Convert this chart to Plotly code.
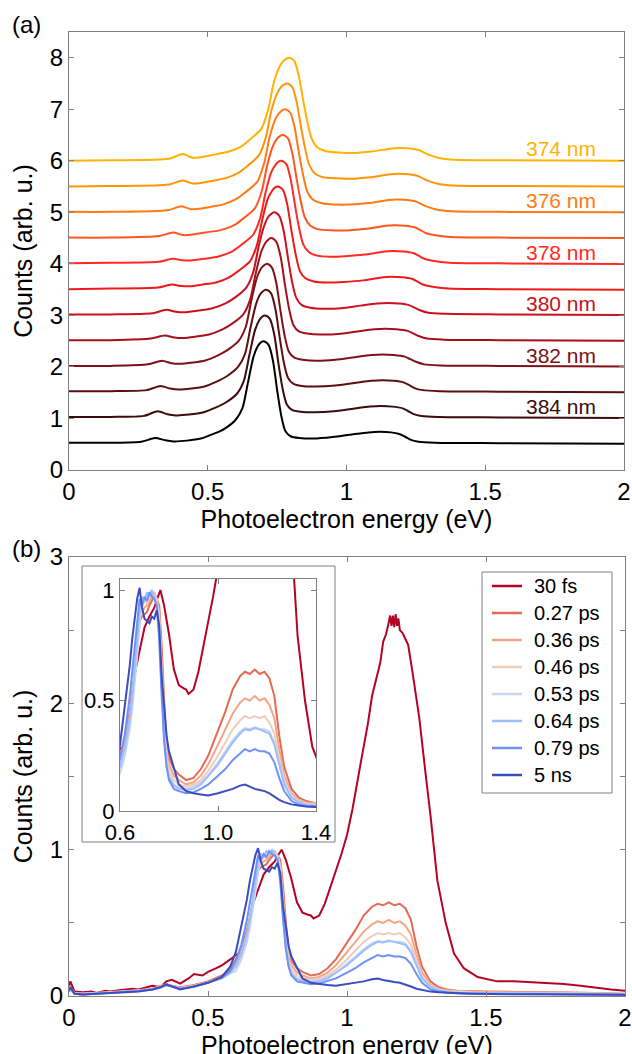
import plotly.graph_objects as go

# ---------------- Panel (a) data: spectra above their offsets ----------------
WAVELENGTHS = ["385 nm", "384 nm", "383 nm", "382 nm", "381 nm", "380 nm",
               "379 nm", "378 nm", "377 nm", "376 nm", "375 nm", "374 nm"]
OFFSETS_A = [0.5, 1.0, 1.5, 2.0, 2.5, 3.0, 3.5, 4.0, 4.5, 5.0, 5.5, 6.0]
COLORS_A = ["#000000", "#3a0c0c", "#5a1010", "#7e1018", "#a6101a", "#cc1020",
            "#ee1a1a", "#ff2a24", "#ff5520", "#ff7a14", "#ff9608", "#ffb300"]
LABELLED_A = ["384 nm", "382 nm", "380 nm", "378 nm", "376 nm", "374 nm"]

x_385 = [0, 0.15, 0.26, 0.31, 0.345, 0.375, 0.425, 0.475, 0.525, 0.56, 0.60, 0.625, 0.645, 0.665, 0.68, 0.69, 0.70, 0.71, 0.72, 0.735, 0.75, 0.765, 0.78, 0.80, 0.83, 0.88, 0.95, 1.02, 1.08, 1.12, 1.16, 1.19, 1.21, 1.23, 1.26, 1.32, 1.55, 2.0]
r_385 = [0.03, 0.03, 0.05, 0.12, 0.08, 0.055, 0.07, 0.11, 0.21, 0.30, 0.47, 0.70, 1.20, 1.70, 1.90, 1.97, 2.00, 1.98, 1.92, 1.62, 1.05, 0.55, 0.25, 0.15, 0.12, 0.11, 0.14, 0.19, 0.23, 0.24, 0.23, 0.20, 0.15, 0.09, 0.05, 0.03, 0.02, 0.01]
x_384 = [0, 0.15, 0.27, 0.32, 0.355, 0.385, 0.433, 0.482, 0.53, 0.565, 0.605, 0.63, 0.65, 0.67, 0.685, 0.695, 0.705, 0.715, 0.725, 0.74, 0.755, 0.77, 0.785, 0.805, 0.835, 0.885, 0.955, 1.025, 1.085, 1.125, 1.165, 1.20, 1.22, 1.24, 1.27, 1.33, 1.55, 2.0]
r_384 = [0.03, 0.03, 0.05, 0.14, 0.08, 0.06, 0.075, 0.115, 0.215, 0.31, 0.48, 0.73, 1.23, 1.71, 1.90, 1.97, 2.00, 1.98, 1.92, 1.62, 1.06, 0.57, 0.27, 0.16, 0.13, 0.12, 0.14, 0.19, 0.23, 0.24, 0.23, 0.20, 0.15, 0.09, 0.05, 0.03, 0.02, 0.01]
x_383 = [0, 0.15, 0.28, 0.33, 0.365, 0.395, 0.441, 0.488, 0.534, 0.569, 0.609, 0.634, 0.654, 0.674, 0.689, 0.699, 0.709, 0.719, 0.729, 0.744, 0.759, 0.774, 0.789, 0.809, 0.839, 0.889, 0.96, 1.03, 1.09, 1.13, 1.17, 1.205, 1.225, 1.245, 1.275, 1.335, 1.55, 2.0]
r_383 = [0.03, 0.03, 0.05, 0.13, 0.08, 0.06, 0.08, 0.12, 0.22, 0.32, 0.50, 0.75, 1.26, 1.72, 1.91, 1.97, 2.00, 1.98, 1.92, 1.62, 1.08, 0.59, 0.29, 0.17, 0.13, 0.12, 0.14, 0.19, 0.23, 0.24, 0.23, 0.20, 0.15, 0.09, 0.05, 0.03, 0.02, 0.01]
x_382 = [0, 0.15, 0.285, 0.335, 0.37, 0.40, 0.446, 0.491, 0.537, 0.572, 0.612, 0.637, 0.657, 0.677, 0.692, 0.702, 0.712, 0.722, 0.732, 0.747, 0.762, 0.777, 0.792, 0.812, 0.842, 0.892, 0.96, 1.03, 1.09, 1.13, 1.17, 1.21, 1.23, 1.25, 1.28, 1.34, 1.55, 2.0]
r_382 = [0.02, 0.02, 0.05, 0.12, 0.07, 0.06, 0.085, 0.125, 0.225, 0.33, 0.51, 0.78, 1.29, 1.73, 1.91, 1.97, 2.00, 1.98, 1.92, 1.63, 1.09, 0.61, 0.30, 0.18, 0.14, 0.12, 0.14, 0.19, 0.23, 0.24, 0.23, 0.20, 0.15, 0.10, 0.05, 0.03, 0.02, 0.01]
x_381 = [0, 0.15, 0.295, 0.345, 0.38, 0.41, 0.458, 0.505, 0.553, 0.588, 0.628, 0.653, 0.673, 0.693, 0.708, 0.718, 0.728, 0.738, 0.748, 0.763, 0.778, 0.793, 0.808, 0.828, 0.858, 0.908, 0.97, 1.04, 1.10, 1.14, 1.18, 1.22, 1.24, 1.26, 1.29, 1.35, 1.55, 2.0]
r_381 = [0.02, 0.02, 0.05, 0.11, 0.07, 0.06, 0.09, 0.13, 0.23, 0.34, 0.52, 0.81, 1.32, 1.74, 1.91, 1.97, 2.00, 1.98, 1.92, 1.63, 1.10, 0.63, 0.32, 0.19, 0.15, 0.13, 0.14, 0.19, 0.23, 0.24, 0.23, 0.20, 0.15, 0.10, 0.05, 0.03, 0.02, 0.01]
x_380 = [0, 0.15, 0.30, 0.35, 0.385, 0.415, 0.465, 0.514, 0.564, 0.599, 0.639, 0.664, 0.684, 0.704, 0.719, 0.729, 0.739, 0.749, 0.759, 0.774, 0.789, 0.804, 0.819, 0.839, 0.869, 0.919, 0.98, 1.05, 1.11, 1.15, 1.19, 1.225, 1.245, 1.265, 1.295, 1.355, 1.55, 2.0]
r_380 = [0.02, 0.02, 0.04, 0.11, 0.07, 0.06, 0.095, 0.135, 0.235, 0.35, 0.54, 0.84, 1.35, 1.75, 1.92, 1.97, 2.00, 1.98, 1.92, 1.63, 1.12, 0.65, 0.34, 0.20, 0.15, 0.13, 0.14, 0.19, 0.23, 0.24, 0.23, 0.20, 0.15, 0.10, 0.05, 0.03, 0.02, 0.01]
x_379 = [0, 0.15, 0.32, 0.37, 0.405, 0.435, 0.482, 0.53, 0.577, 0.612, 0.652, 0.677, 0.697, 0.717, 0.732, 0.742, 0.752, 0.762, 0.772, 0.787, 0.802, 0.817, 0.832, 0.852, 0.882, 0.932, 0.99, 1.06, 1.12, 1.16, 1.20, 1.235, 1.255, 1.275, 1.305, 1.365, 1.55, 2.0]
r_379 = [0.01, 0.02, 0.04, 0.10, 0.07, 0.065, 0.10, 0.14, 0.24, 0.37, 0.55, 0.86, 1.37, 1.77, 1.92, 1.98, 2.00, 1.98, 1.93, 1.64, 1.13, 0.68, 0.36, 0.22, 0.16, 0.14, 0.15, 0.18, 0.23, 0.25, 0.24, 0.21, 0.16, 0.10, 0.06, 0.02, 0.01, 0.00]
x_378 = [0, 0.15, 0.323, 0.373, 0.408, 0.438, 0.488, 0.539, 0.589, 0.624, 0.664, 0.689, 0.709, 0.729, 0.744, 0.754, 0.764, 0.774, 0.784, 0.799, 0.814, 0.829, 0.844, 0.864, 0.894, 0.944, 0.995, 1.065, 1.125, 1.165, 1.205, 1.24, 1.26, 1.28, 1.31, 1.37, 1.55, 2.0]
r_378 = [0.01, 0.02, 0.04, 0.10, 0.07, 0.065, 0.10, 0.145, 0.245, 0.38, 0.57, 0.89, 1.40, 1.78, 1.92, 1.98, 2.00, 1.98, 1.93, 1.64, 1.15, 0.70, 0.38, 0.23, 0.16, 0.14, 0.15, 0.18, 0.23, 0.25, 0.24, 0.21, 0.16, 0.10, 0.06, 0.02, 0.01, 0.00]
x_377 = [0, 0.15, 0.325, 0.375, 0.41, 0.44, 0.492, 0.543, 0.595, 0.63, 0.67, 0.695, 0.715, 0.735, 0.75, 0.76, 0.77, 0.78, 0.79, 0.805, 0.82, 0.835, 0.85, 0.87, 0.90, 0.95, 1.00, 1.07, 1.13, 1.17, 1.21, 1.245, 1.265, 1.285, 1.315, 1.375, 1.55, 2.0]
r_377 = [0.01, 0.01, 0.04, 0.11, 0.06, 0.065, 0.11, 0.15, 0.25, 0.39, 0.58, 0.92, 1.43, 1.79, 1.93, 1.98, 2.00, 1.98, 1.93, 1.64, 1.16, 0.72, 0.40, 0.24, 0.17, 0.15, 0.15, 0.18, 0.23, 0.25, 0.24, 0.21, 0.16, 0.10, 0.06, 0.02, 0.01, 0.00]
x_376 = [0, 0.15, 0.355, 0.405, 0.44, 0.47, 0.514, 0.559, 0.603, 0.638, 0.678, 0.703, 0.723, 0.743, 0.758, 0.768, 0.778, 0.788, 0.798, 0.813, 0.828, 0.843, 0.858, 0.878, 0.908, 0.958, 1.01, 1.08, 1.14, 1.18, 1.22, 1.25, 1.27, 1.29, 1.32, 1.38, 1.55, 2.0]
r_376 = [0.01, 0.01, 0.04, 0.12, 0.06, 0.07, 0.11, 0.16, 0.26, 0.40, 0.59, 0.95, 1.46, 1.80, 1.93, 1.98, 2.00, 1.98, 1.93, 1.65, 1.17, 0.74, 0.41, 0.25, 0.18, 0.15, 0.15, 0.18, 0.23, 0.25, 0.24, 0.21, 0.16, 0.11, 0.06, 0.02, 0.01, 0.00]
x_375 = [0, 0.15, 0.36, 0.41, 0.445, 0.475, 0.52, 0.565, 0.61, 0.645, 0.685, 0.71, 0.73, 0.75, 0.765, 0.775, 0.785, 0.795, 0.805, 0.82, 0.835, 0.85, 0.865, 0.885, 0.915, 0.965, 1.015, 1.085, 1.145, 1.185, 1.225, 1.255, 1.275, 1.295, 1.325, 1.385, 1.55, 2.0]
r_375 = [0.00, 0.01, 0.04, 0.12, 0.06, 0.07, 0.115, 0.165, 0.265, 0.41, 0.61, 0.97, 1.49, 1.81, 1.94, 1.98, 2.00, 1.98, 1.93, 1.65, 1.19, 0.76, 0.43, 0.26, 0.18, 0.16, 0.15, 0.18, 0.23, 0.25, 0.24, 0.21, 0.16, 0.11, 0.06, 0.02, 0.01, 0.00]
x_374 = [0, 0.15, 0.36, 0.41, 0.445, 0.475, 0.523, 0.57, 0.618, 0.653, 0.693, 0.718, 0.738, 0.758, 0.773, 0.783, 0.793, 0.803, 0.813, 0.828, 0.843, 0.858, 0.873, 0.893, 0.923, 0.973, 1.02, 1.09, 1.15, 1.19, 1.23, 1.26, 1.28, 1.30, 1.33, 1.39, 1.55, 2.0]
r_374 = [0.00, 0.01, 0.04, 0.13, 0.06, 0.07, 0.12, 0.17, 0.27, 0.42, 0.62, 1.00, 1.52, 1.82, 1.94, 1.98, 2.00, 1.98, 1.93, 1.65, 1.20, 0.78, 0.45, 0.27, 0.19, 0.16, 0.15, 0.18, 0.23, 0.25, 0.24, 0.21, 0.16, 0.11, 0.06, 0.02, 0.01, 0.00]

X_A = [x_385, x_384, x_383, x_382, x_381, x_380, x_379, x_378, x_377, x_376, x_375, x_374]
R_A = [r_385, r_384, r_383, r_382, r_381, r_380, r_379, r_378, r_377, r_376, r_375, r_374]

# ---------------- Panel (b) data ----------------
DELAYS = ["30 fs", "0.27 ps", "0.36 ps", "0.46 ps", "0.53 ps", "0.64 ps", "0.79 ps", "5 ns"]
COLORS_B = ["#b40426", "#e36a53", "#f5a486", "#f0cdbb", "#c6d6f1", "#9dbdff", "#6f92f3", "#3b4cc0"]

x_30fs = [0, 0.005, 0.02, 0.05, 0.08, 0.1, 0.13, 0.15, 0.18, 0.2, 0.23, 0.25, 0.28, 0.3, 0.33, 0.35, 0.37, 0.4, 0.43, 0.45, 0.48, 0.5, 0.53, 0.55, 0.58, 0.6, 0.62, 0.64, 0.66, 0.68, 0.70, 0.72, 0.74, 0.755, 0.765, 0.78, 0.80, 0.82, 0.84, 0.86, 0.87, 0.88, 0.89, 0.90, 0.92, 0.94, 0.96, 0.98, 1.00, 1.02, 1.05, 1.075, 1.09, 1.11, 1.12, 1.13, 1.14, 1.15, 1.155, 1.16, 1.165, 1.17, 1.175, 1.18, 1.185, 1.19, 1.20, 1.21, 1.22, 1.235, 1.26, 1.285, 1.30, 1.325, 1.355, 1.385, 1.42, 1.47, 1.54, 1.6, 1.66, 1.72, 1.78, 1.84, 1.9, 1.95, 2.0]
y_30fs = [0.07, 0.10, 0.03, 0.025, 0.03, 0.02, 0.035, 0.03, 0.04, 0.045, 0.05, 0.045, 0.06, 0.07, 0.06, 0.10, 0.11, 0.085, 0.12, 0.15, 0.14, 0.165, 0.19, 0.21, 0.25, 0.28, 0.30, 0.40, 0.62, 0.72, 0.83, 0.88, 0.92, 0.97, 1.00, 0.93, 0.80, 0.64, 0.57, 0.555, 0.55, 0.53, 0.54, 0.55, 0.63, 0.74, 0.86, 0.97, 1.10, 1.28, 1.60, 1.86, 2.05, 2.20, 2.28, 2.42, 2.47, 2.55, 2.60, 2.53, 2.60, 2.52, 2.61, 2.53, 2.58, 2.50, 2.48, 2.44, 2.40, 2.22, 1.90, 1.48, 1.24, 0.79, 0.50, 0.29, 0.19, 0.13, 0.10, 0.10, 0.093, 0.09, 0.082, 0.07, 0.054, 0.045, 0.036]

x_b = [0, 0.005, 0.02, 0.05, 0.1, 0.15, 0.2, 0.25, 0.3, 0.33, 0.35, 0.37, 0.4, 0.45, 0.5, 0.55, 0.58,
       0.6, 0.62, 0.64, 0.65, 0.66, 0.67, 0.68, 0.69, 0.70, 0.71, 0.72, 0.73, 0.74, 0.75, 0.76, 0.77, 0.78, 0.79, 0.80,
       0.82, 0.84, 0.87, 0.90, 0.93, 0.96, 1.00, 1.03, 1.06, 1.09, 1.11, 1.13, 1.15, 1.17, 1.19, 1.21, 1.23, 1.25, 1.27,
       1.30, 1.33, 1.36, 1.40, 1.45, 1.5, 1.6, 1.7, 1.8, 1.9, 2.0]
y_027ps = [0.04, 0.06, 0.02, 0.015, 0.02, 0.025, 0.03, 0.04, 0.05, 0.065, 0.08, 0.07, 0.06, 0.075, 0.10, 0.14, 0.18,
           0.25, 0.33, 0.45, 0.53, 0.62, 0.72, 0.86, 0.88, 0.89, 0.90, 0.93, 0.95, 0.98, 0.96, 0.93, 0.75, 0.50, 0.33, 0.24,
           0.19, 0.165, 0.14, 0.15, 0.19, 0.25, 0.36, 0.45, 0.55, 0.61, 0.63, 0.62, 0.64, 0.62, 0.63, 0.60, 0.52, 0.34, 0.20,
           0.10, 0.06, 0.045, 0.035, 0.03, 0.03, 0.028, 0.028, 0.024, 0.02, 0.015]
y_036ps = [0.03, 0.05, 0.02, 0.015, 0.02, 0.025, 0.03, 0.04, 0.05, 0.065, 0.08, 0.07, 0.055, 0.07, 0.095, 0.13, 0.17,
           0.23, 0.31, 0.43, 0.52, 0.62, 0.74, 0.88, 0.90, 0.92, 0.93, 0.95, 0.97, 0.99, 0.96, 0.90, 0.68, 0.44, 0.28, 0.21,
           0.16, 0.14, 0.12, 0.13, 0.16, 0.21, 0.30, 0.37, 0.44, 0.49, 0.51, 0.50, 0.52, 0.50, 0.51, 0.48, 0.42, 0.28, 0.16,
           0.08, 0.05, 0.04, 0.033, 0.028, 0.026, 0.025, 0.025, 0.022, 0.018, 0.014]
y_046ps = [0.03, 0.05, 0.015, 0.015, 0.02, 0.025, 0.03, 0.035, 0.05, 0.06, 0.075, 0.065, 0.055, 0.07, 0.09, 0.125, 0.16,
           0.20, 0.28, 0.40, 0.50, 0.60, 0.72, 0.86, 0.92, 0.95, 0.94, 0.97, 0.99, 0.97, 0.95, 0.88, 0.64, 0.40, 0.25, 0.18,
           0.14, 0.12, 0.11, 0.12, 0.14, 0.18, 0.25, 0.31, 0.37, 0.41, 0.43, 0.42, 0.43, 0.42, 0.43, 0.40, 0.35, 0.24, 0.14,
           0.07, 0.045, 0.033, 0.028, 0.025, 0.024, 0.023, 0.022, 0.02, 0.017, 0.013]
y_053ps = [0.03, 0.04, 0.015, 0.01, 0.02, 0.02, 0.03, 0.035, 0.045, 0.06, 0.075, 0.065, 0.05, 0.065, 0.09, 0.12, 0.155,
           0.17, 0.25, 0.37, 0.46, 0.57, 0.70, 0.85, 0.94, 0.97, 0.95, 0.98, 1.00, 0.98, 0.96, 0.86, 0.60, 0.36, 0.22, 0.16,
           0.12, 0.105, 0.10, 0.11, 0.13, 0.16, 0.22, 0.27, 0.32, 0.36, 0.375, 0.37, 0.38, 0.37, 0.37, 0.36, 0.31, 0.22, 0.13,
           0.065, 0.04, 0.03, 0.025, 0.022, 0.02, 0.02, 0.02, 0.018, 0.015, 0.012]
y_064ps = [0.03, 0.05, 0.015, 0.01, 0.02, 0.02, 0.03, 0.035, 0.045, 0.06, 0.075, 0.065, 0.05, 0.065, 0.09, 0.12, 0.16,
           0.20, 0.29, 0.42, 0.52, 0.64, 0.78, 0.92, 0.97, 0.95, 0.99, 0.97, 1.00, 0.96, 0.94, 0.80, 0.55, 0.33, 0.21, 0.15,
           0.115, 0.10, 0.095, 0.10, 0.12, 0.16, 0.21, 0.26, 0.31, 0.35, 0.37, 0.365, 0.375, 0.37, 0.36, 0.35, 0.30, 0.21, 0.12,
           0.06, 0.04, 0.028, 0.022, 0.02, 0.018, 0.018, 0.017, 0.015, 0.013, 0.01]
y_079ps = [0.03, 0.05, 0.015, 0.01, 0.015, 0.02, 0.025, 0.035, 0.045, 0.06, 0.075, 0.065, 0.05, 0.065, 0.09, 0.125, 0.17,
           0.24, 0.35, 0.52, 0.63, 0.75, 0.87, 0.96, 0.93, 0.97, 0.95, 0.99, 0.97, 0.96, 0.93, 0.78, 0.52, 0.32, 0.20, 0.14,
           0.10, 0.09, 0.08, 0.085, 0.10, 0.12, 0.16, 0.19, 0.23, 0.26, 0.28, 0.27, 0.28, 0.27, 0.27, 0.26, 0.22, 0.15, 0.09,
           0.045, 0.03, 0.022, 0.018, 0.016, 0.015, 0.014, 0.014, 0.012, 0.01, 0.008]
y_5ns = [0.04, 0.06, 0.015, 0.01, 0.015, 0.02, 0.025, 0.03, 0.045, 0.06, 0.08, 0.065, 0.045, 0.065, 0.09, 0.13, 0.20,
         0.30, 0.47, 0.66, 0.78, 0.88, 0.96, 1.01, 0.92, 0.87, 0.86, 0.85, 0.88, 0.87, 0.91, 0.84, 0.61, 0.46, 0.34, 0.27,
         0.19, 0.12, 0.09, 0.08, 0.075, 0.07, 0.08, 0.09, 0.10, 0.115, 0.12, 0.11, 0.10, 0.095, 0.09, 0.08, 0.065, 0.05, 0.04,
         0.03, 0.025, 0.02, 0.018, 0.015, 0.013, 0.012, 0.012, 0.01, 0.01, 0.008]

X_B = [x_30fs, x_b, x_b, x_b, x_b, x_b, x_b, x_b]
Y_B = [y_30fs, y_027ps, y_036ps, y_046ps, y_053ps, y_064ps, y_079ps, y_5ns]

X_TITLE = "Photoelectron energy (eV)"
Y_TITLE = "Counts (arb. u.)"

# ---------------- Figure ----------------
FONT = "Liberation Sans, Arial, sans-serif"
GRAY = "#808080"
W, H = 632, 1054

def px_x(p):
    return p / W

def px_y(p):
    return 1 - p / H

fig = go.Figure()

for name, off, col, xs, rs in zip(WAVELENGTHS, OFFSETS_A, COLORS_A, X_A, R_A):
    fig.add_trace(go.Scatter(
        x=xs, y=[off + r for r in rs], mode="lines", name=name,
        line=dict(color=col, width=2, shape="spline", smoothing=0.7),
        showlegend=False, xaxis="x", yaxis="y", hoverinfo="skip"))

for name, col, xs, ys in zip(DELAYS, COLORS_B, X_B, Y_B):
    fig.add_trace(go.Scatter(
        x=xs, y=ys, mode="lines", name=name, line=dict(color=col, width=2),
        showlegend=False, xaxis="x2", yaxis="y2", hoverinfo="skip"))
for name, col, xs, ys in zip(DELAYS, COLORS_B, X_B, Y_B):
    fig.add_trace(go.Scatter(
        x=xs, y=ys, mode="lines", name=name, line=dict(color=col, width=2),
        showlegend=False, xaxis="x3", yaxis="y3", hoverinfo="skip"))

for name, off, col in zip(WAVELENGTHS, OFFSETS_A, COLORS_A):
    if name in LABELLED_A:
        fig.add_annotation(x=1.906, y=off + 0.23, xref="x", yref="y", text=name,
                           showarrow=False, xanchor="right", yanchor="middle",
                           font=dict(family=FONT, size=21, color=col))

fig.add_annotation(x=px_x(26), y=px_y(25), xref="paper", yref="paper", text="(a)",
                   showarrow=False, xanchor="center", yanchor="middle",
                   font=dict(family=FONT, size=24, color="black"))
fig.add_annotation(x=px_x(26), y=px_y(548), xref="paper", yref="paper", text="(b)",
                   showarrow=False, xanchor="center", yanchor="middle",
                   font=dict(family=FONT, size=24, color="black"))

# x title of panel (b): sits at the very bottom edge, partly cut like the original
fig.add_annotation(x=px_x(347), y=px_y(1029), xref="paper", yref="paper", text=X_TITLE,
                   showarrow=False, xanchor="center", yanchor="top",
                   font=dict(family=FONT, size=25, color="black"))

# inset frame
fig.add_shape(type="rect", xref="paper", yref="paper",
              x0=px_x(82), x1=px_x(335), y0=px_y(842), y1=px_y(566),
              line=dict(color=GRAY, width=1), fillcolor="white", layer="below")

# legend box for panel (b), drawn from the delay names and colours
fig.add_shape(type="rect", xref="paper", yref="paper",
              x0=px_x(482), x1=px_x(612), y0=px_y(793), y1=px_y(572),
              line=dict(color=GRAY, width=1), fillcolor="white", layer="above")
for k, (name, col) in enumerate(zip(DELAYS, COLORS_B)):
    yc = 586 + 27 * k
    fig.add_shape(type="line", xref="paper", yref="paper",
                  x0=px_x(492), x1=px_x(522), y0=px_y(yc), y1=px_y(yc),
                  line=dict(color=col, width=2.5), layer="above")
    fig.add_annotation(x=px_x(532), y=px_y(yc), xref="paper", yref="paper", text=name,
                       showarrow=False, xanchor="left", yanchor="middle",
                       font=dict(family=FONT, size=20, color="black"))

common = dict(showline=True, linecolor=GRAY, linewidth=1, mirror="ticks", ticks="inside",
              ticklen=5, tickcolor=GRAY, showgrid=False, zeroline=False, automargin=False,
              tickfont=dict(family=FONT, size=24, color="black"))
title_font = dict(family=FONT, size=25, color="black")

XT = [0, 0.5, 1, 1.5, 2]
XT_TEXT = ["0", "0.5", "1", "1.5", "2"]

fig.update_layout(
    width=W, height=H, margin=dict(l=0, r=0, t=0, b=0),
    paper_bgcolor="white", plot_bgcolor="rgba(0,0,0,0)", template="none",
    font=dict(family=FONT, color="black"), showlegend=False,
    xaxis=dict(common, domain=[px_x(69), px_x(624)], anchor="y", range=[0, 2],
               tickvals=XT, ticktext=XT_TEXT,
               title=dict(text=X_TITLE, font=title_font, standoff=4)),
    yaxis=dict(common, domain=[px_y(470), px_y(32)], anchor="x", range=[0, 8.5],
               tickvals=list(range(9)),
               title=dict(text=Y_TITLE, font=title_font, standoff=10)),
    xaxis2=dict(common, domain=[px_x(69), px_x(625)], anchor="y2", range=[0, 2],
                tickvals=XT, ticktext=XT_TEXT),
    yaxis2=dict(common, domain=[px_y(996), px_y(557)], anchor="x2", range=[0, 3],
                tickvals=[0, 0.5, 1, 1.5, 2, 2.5, 3], ticktext=["0", "", "1", "", "2", "", "3"],
                title=dict(text=Y_TITLE, font=title_font, standoff=10)),
    xaxis3=dict(common, domain=[px_x(120), px_x(316)], anchor="y3", range=[0.6, 1.4],
                tickvals=[0.6, 1.0, 1.4], ticktext=["0.6", "1.0", "1.4"], ticklabelstandoff=2,
                tickfont=dict(family=FONT, size=22, color="black")),
    yaxis3=dict(common, domain=[px_y(811), px_y(579)], anchor="x3", range=[0, 1.05],
                tickvals=[0, 0.5, 1], ticktext=["0", "0.5", "1"],
                tickfont=dict(family=FONT, size=22, color="black")),
)

fig.write_html("out.html", config={"displayModeBar": False},
               post_script="document.body.style.margin='0';document.body.style.overflow='hidden';")
